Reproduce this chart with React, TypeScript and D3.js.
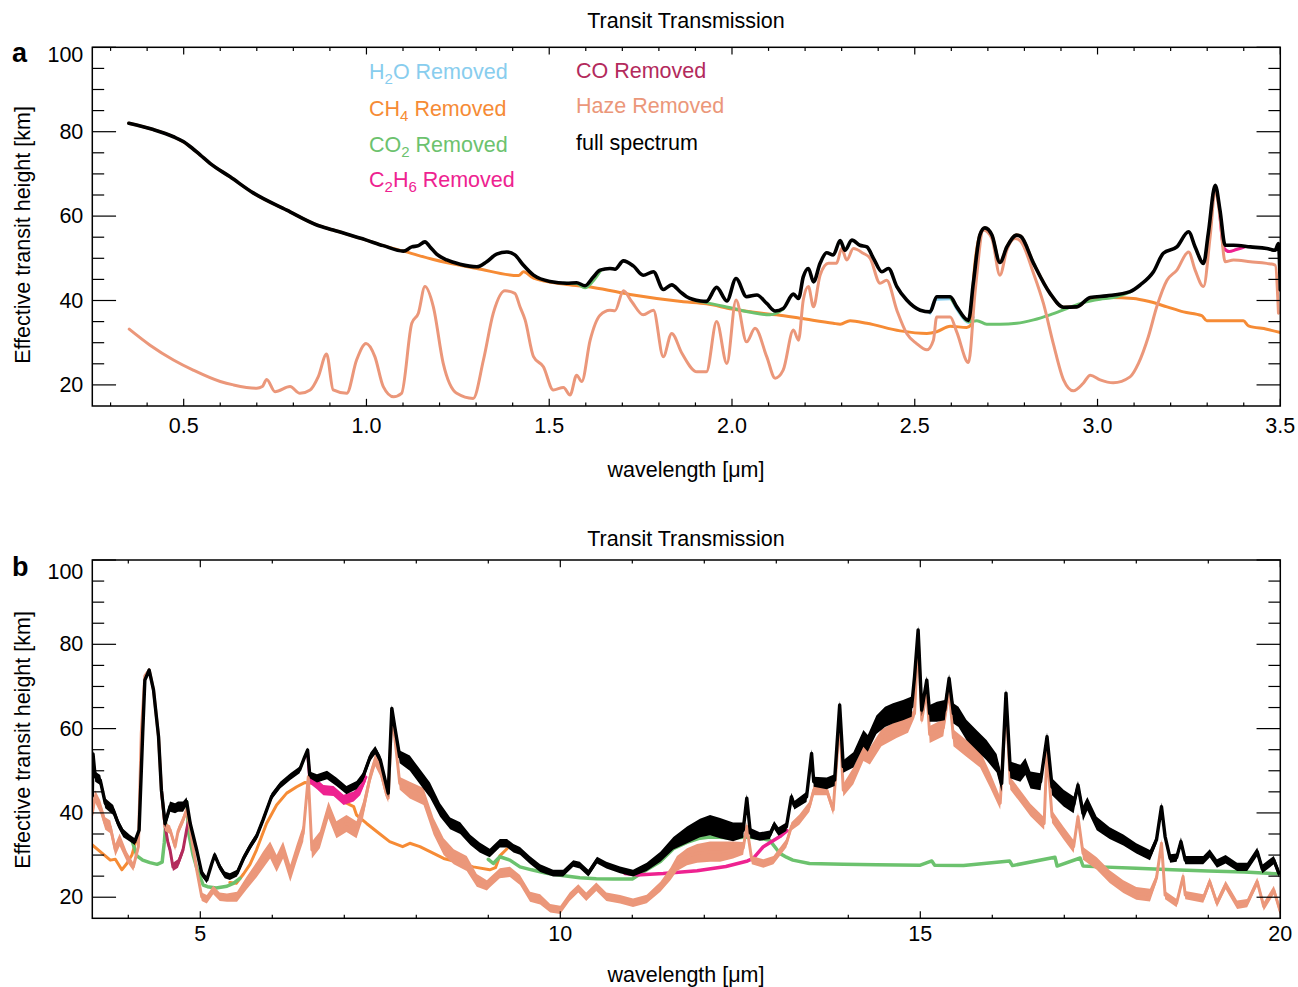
import React from "react";
import * as d3 from "d3";

type P = [number, number] | null;
type PS = [number, number, number];

// ---------- Panel a (0.25–3.5 µm) ----------
const aFull: P[] = [
  [0.35, 82.0], [0.417, 80.5], [0.472, 78.8], [0.5, 77.6], [0.513, 76.8], [0.545, 74.5], [0.572, 72.5],
  [0.627, 69.3], [0.69, 65.5], [0.782, 61.4], [0.864, 57.9], [0.909, 56.7], [1.0, 54.3], [1.046, 53.0],
  [1.101, 51.7], [1.124, 52.7], [1.142, 53.0], [1.16, 53.9], [1.174, 52.7], [1.192, 51.0], [1.22, 49.6],
  [1.256, 48.6], [1.302, 48.0], [1.329, 49.2], [1.356, 51.0], [1.384, 51.5], [1.406, 50.8], [1.429, 48.4],
  [1.457, 46.0], [1.502, 44.5], [1.548, 44.1], [1.575, 44.2], [1.598, 43.5], [1.62, 45.5], [1.639, 47.2],
  [1.666, 47.6], [1.68, 47.4], [1.703, 49.4], [1.73, 48.2], [1.757, 46.0], [1.785, 46.8], [1.812, 42.6],
  [1.835, 43.7], [1.858, 42.1], [1.876, 40.9], [1.914, 39.9], [1.93, 39.8], [1.958, 43.1], [1.986, 39.9],
  [2.011, 45.2], [2.04, 40.9], [2.068, 41.3], [2.095, 39.3], [2.118, 37.5], [2.14, 38.1], [2.168, 41.5],
  [2.182, 40.5], [2.195, 45.6], [2.209, 47.6], [2.223, 44.4], [2.241, 48.8], [2.259, 51.3], [2.277, 50.8],
  [2.296, 54.2], [2.309, 51.9], [2.328, 54.3], [2.35, 53.1], [2.369, 52.7], [2.387, 50.0], [2.41, 46.8],
  [2.428, 47.6], [2.451, 43.3], [2.478, 40.1], [2.515, 37.7], [2.542, 37.3], [2.56, 40.9], [2.597, 40.9],
  [2.615, 38.5], [2.647, 35.3], [2.66, 44.0], [2.678, 55.5], [2.692, 57.2], [2.711, 55.5], [2.733, 49.0],
  [2.752, 52.7], [2.779, 55.5], [2.79, 55.2], [2.825, 48.8], [2.87, 41.7], [2.907, 38.4], [2.943, 38.5],
  [2.98, 40.7], [3.025, 41.1], [3.089, 42.1], [3.117, 43.7], [3.153, 46.8], [3.18, 51.2], [3.217, 52.7],
  [3.249, 56.3], [3.267, 52.7], [3.29, 48.8], [3.303, 55.9], [3.322, 67.3], [3.335, 61.4], [3.349, 53.1],
  [3.372, 53.1], [3.418, 52.7], [3.463, 52.3], [3.486, 51.9], [3.495, 53.5], [3.5, 42.5],
];

const aHaze: P[] = [
  [0.351, 33.2], [0.408, 29.4], [0.472, 25.9], [0.526, 23.5], [0.6, 20.8], [0.636, 20.0], [0.7, 19.2],
  [0.715, 19.6], [0.727, 21.3], [0.75, 18.4], [0.791, 19.6], [0.818, 18.0], [0.846, 18.8], [0.868, 21.9],
  [0.891, 27.3], [0.909, 18.8], [0.946, 18.0], [0.973, 25.9], [0.999, 29.8], [1.023, 26.7], [1.046, 19.6],
  [1.074, 17.2], [1.096, 18.0], [1.124, 34.6], [1.142, 37.0], [1.16, 43.3], [1.183, 38.5], [1.21, 25.1],
  [1.247, 18.0], [1.292, 16.8], [1.32, 25.9], [1.347, 37.0], [1.379, 42.3], [1.406, 41.7], [1.42, 38.5],
  [1.434, 35.4], [1.457, 26.7], [1.484, 24.3], [1.511, 18.8], [1.539, 19.4], [1.557, 17.6], [1.575, 22.3],
  [1.589, 20.8], [1.612, 30.6], [1.639, 36.5], [1.666, 37.7], [1.68, 37.6], [1.703, 42.3], [1.726, 39.7],
  [1.757, 36.6], [1.785, 37.7], [1.812, 26.7], [1.835, 32.2], [1.863, 27.5], [1.904, 23.1], [1.93, 23.1],
  [1.958, 35.0], [1.986, 25.1], [2.011, 40.1], [2.04, 30.2], [2.063, 33.4], [2.095, 26.7], [2.118, 21.6],
  [2.14, 23.5], [2.168, 33.0], [2.182, 30.6], [2.195, 40.1], [2.209, 43.3], [2.223, 38.5], [2.241, 46.0],
  [2.264, 48.8], [2.286, 48.8], [2.3, 52.3], [2.314, 49.6], [2.332, 52.3], [2.359, 51.2], [2.378, 50.0],
  [2.405, 44.1], [2.423, 44.8], [2.451, 37.7], [2.478, 32.2], [2.505, 29.8], [2.533, 28.3], [2.551, 30.6],
  [2.56, 36.1], [2.597, 36.1], [2.615, 32.5], [2.647, 25.3], [2.665, 42.0], [2.688, 56.7], [2.711, 54.7],
  [2.733, 46.0], [2.752, 52.0], [2.774, 54.7], [2.79, 54.0], [2.825, 46.4], [2.852, 39.3], [2.879, 29.8],
  [2.907, 21.2], [2.934, 18.6], [2.961, 20.4], [2.98, 22.3], [3.007, 21.2], [3.043, 20.5], [3.089, 21.9],
  [3.112, 25.1], [3.139, 31.4], [3.162, 38.5], [3.19, 44.8], [3.217, 47.2], [3.249, 51.5], [3.267, 47.2],
  [3.29, 43.3], [3.308, 55.1], [3.322, 66.2], [3.335, 59.8], [3.349, 49.2], [3.372, 49.6], [3.418, 49.2],
  [3.463, 48.8], [3.486, 48.4], [3.495, 37.0],
];

const aCH4: P[] = [
  [0.35, 82.0], [0.417, 80.5], [0.472, 78.8], [0.513, 76.8], [0.545, 74.5], [0.572, 72.5], [0.627, 69.3],
  [0.69, 65.5], [0.782, 61.4], [0.864, 57.9], [0.909, 56.7], [1.0, 54.3], [1.046, 53.0], [1.101, 51.7],
  [1.183, 49.7], [1.302, 47.6], [1.416, 45.9], [1.43, 46.8], [1.457, 45.3], [1.548, 43.8], [1.62, 43.1],
  [1.73, 41.3], [1.867, 39.7], [1.93, 39.2], [2.0, 38.0], [2.06, 37.2], [2.122, 36.6], [2.186, 35.8],
  [2.277, 34.6], [2.296, 34.4], [2.323, 35.2], [2.369, 34.6], [2.46, 32.8], [2.533, 32.2], [2.56, 32.6],
  [2.597, 33.9], [2.642, 33.6], [2.655, 34.3], [2.66, 44.0], [2.678, 55.5], [2.692, 57.2], [2.711, 55.5],
  [2.733, 49.0], [2.752, 52.7], [2.779, 55.5], [2.79, 55.2], [2.825, 48.8], [2.87, 41.7], [2.907, 38.4],
  [2.943, 38.5], [2.98, 40.5], [3.035, 40.7], [3.098, 40.5], [3.144, 39.7], [3.19, 38.5], [3.235, 37.3],
  [3.285, 36.4], [3.299, 35.2], [3.399, 35.2], [3.413, 34.0], [3.463, 33.2], [3.5, 32.4],
];

const aCO2: P[] = [
  [1.54, 44.1], [1.575, 44.0], [1.598, 43.0], [1.62, 44.6], [1.64, 47.0], null,
  [1.9, 40.0], [1.93, 39.5], [2.004, 38.1], [2.058, 37.1], [2.104, 36.6], [2.122, 37.0], [2.14, 38.0], null,
  [2.597, 40.8], [2.615, 38.4], [2.647, 35.0], [2.67, 35.2], [2.697, 34.4], [2.733, 34.4], [2.779, 34.6],
  [2.825, 35.4], [2.87, 36.6], [2.916, 38.1], [2.961, 39.5], [3.007, 40.3], [3.043, 40.7], [3.089, 42.0],
];

const aH2O: P[] = [
  [2.542, 37.0], [2.56, 40.3], [2.597, 40.4], [2.615, 38.0], [2.647, 34.8], [2.66, 36.0],
];

const aC2H6: P[] = [
  [3.335, 60.0], [3.345, 52.5], [3.36, 51.6], [3.38, 52.1], [3.4, 52.6],
];

// ---------- Panel b (3.5–20 µm): [wavelength, height, noise half-width] ----------
const bFull: PS[] = [
  [3.5, 44, 1], [3.51, 54, 1], [3.54, 48.6, 1.2], [3.61, 47.8, 1.2], [3.68, 42.3, 1.2], [3.79, 40.7, 1.2],
  [3.86, 37.5, 1], [3.93, 35.2, 1], [4.02, 34.0, 0.8], [4.09, 33.2, 0.8], [4.15, 35.9, 0.6], [4.2, 58.9, 0.5],
  [4.23, 71.5, 0.5], [4.29, 73.9, 0.5], [4.35, 69.2, 0.5], [4.42, 58.1, 0.5], [4.46, 45.4, 0.5], [4.51, 37.5, 1],
  [4.58, 41.5, 1.2], [4.65, 41.1, 1.2], [4.69, 41.5, 1.2], [4.76, 41.5, 1.2], [4.81, 42.7, 1], [4.86, 37.5, 1],
  [4.95, 31.2, 0.8], [5.02, 25.7, 0.8], [5.09, 24.1, 0.8], [5.16, 28.0, 0.8], [5.2, 30.0, 0.8], [5.27, 27.2, 0.8],
  [5.34, 25.3, 0.8], [5.41, 24.9, 0.8], [5.51, 25.7, 0.8], [5.6, 29.2, 0.8], [5.69, 32.0, 0.8], [5.78, 34.4, 0.8],
  [5.87, 38.3, 0.8], [5.99, 43.9, 0.8], [6.11, 46.6, 0.8], [6.25, 48.6, 0.8], [6.38, 50.2, 0.8], [6.45, 53.3, 0.6],
  [6.49, 54.9, 0.6], [6.52, 49.0, 0.8], [6.62, 48.2, 1], [6.76, 49.0, 1], [6.89, 47.4, 1], [7.03, 45.4, 1],
  [7.17, 46.6, 1], [7.26, 48.6, 1], [7.36, 53.3, 1], [7.43, 54.9, 1], [7.5, 52.6, 1], [7.61, 44.7, 1],
  [7.66, 64.8, 0.8], [7.7, 60.5, 1], [7.77, 53.3, 1.5], [7.91, 51.8, 1.8], [8.05, 48.6, 1.8], [8.19, 45.4, 1.8],
  [8.33, 40.7, 1.6], [8.47, 37.5, 1.4], [8.61, 36.4, 1.4], [8.75, 33.6, 1.2], [8.88, 31.8, 1.2], [9.02, 30.5, 1.0],
  [9.16, 32.8, 1.0], [9.26, 32.8, 1.0], [9.35, 31.6, 1.0], [9.44, 31.0, 0.9], [9.58, 28.8, 0.9], [9.72, 26.9, 0.9],
  [9.9, 25.7, 0.8], [10.04, 25.7, 0.8], [10.18, 28.0, 0.8], [10.27, 27.6, 0.8], [10.39, 25.7, 0.8], [10.51, 28.8, 0.8],
  [10.64, 27.6, 0.8], [10.83, 26.5, 0.8], [11.01, 25.7, 0.8], [11.2, 27.2, 1.0], [11.39, 29.6, 1.2], [11.57, 32.8, 1.5],
  [11.76, 34.8, 2.0], [11.94, 36.4, 2.2], [12.08, 37.1, 2.4], [12.22, 36.4, 2.4], [12.4, 35.5, 2.2], [12.54, 35.9, 1.8],
  [12.59, 43.5, 1], [12.64, 35.2, 1.2], [12.77, 34.4, 1], [12.91, 34.8, 1], [12.97, 37.1, 1], [13.03, 35.6, 1],
  [13.14, 36.7, 1], [13.21, 43.8, 1], [13.25, 41.8, 1], [13.42, 43.8, 1.2], [13.49, 54.1, 1], [13.52, 47.4, 1.2],
  [13.7, 47.0, 1.4], [13.81, 47.8, 1.4], [13.88, 65.6, 1], [13.93, 51.0, 1.5], [14.07, 52.6, 1.8], [14.21, 57.7, 2],
  [14.27, 56.5, 2], [14.39, 60.9, 2.2], [14.51, 62.8, 2.4], [14.62, 63.6, 2.4], [14.76, 64.4, 2.4], [14.88, 65.2, 2.4],
  [14.92, 72.3, 1], [14.97, 83.4, 1], [15.02, 64.4, 1.5], [15.09, 71.5, 1], [15.13, 63.6, 2], [15.23, 64.0, 2.4],
  [15.34, 64.4, 2.4], [15.4, 71.9, 1], [15.46, 63.6, 2.4], [15.53, 62.8, 2.4], [15.64, 59.7, 2.4], [15.78, 57.3, 2.4],
  [15.92, 54.9, 2.4], [16.06, 51.8, 2.2], [16.13, 47.0, 2], [16.19, 68.4, 1], [16.25, 50.2, 2], [16.39, 49.4, 2],
  [16.46, 51.0, 2], [16.53, 47.8, 2], [16.67, 47.4, 2], [16.76, 58.1, 1], [16.83, 46.2, 2], [16.99, 43.5, 2],
  [17.13, 41.9, 2], [17.19, 46.6, 1], [17.26, 39.9, 1.8], [17.32, 42.2, 1.6], [17.45, 37.5, 1.6], [17.63, 35.2, 1.4],
  [17.82, 33.6, 1.3], [18.0, 31.6, 1.2], [18.19, 30.0, 1.2], [18.28, 33.6, 1], [18.35, 41.5, 1], [18.4, 34.4, 1],
  [18.47, 29.2, 1], [18.56, 29.4, 1], [18.62, 33.2, 1], [18.68, 28.8, 1], [18.93, 28.8, 1], [19.02, 30.4, 1],
  [19.12, 28.0, 1], [19.24, 29.0, 1], [19.4, 27.2, 1], [19.54, 27.2, 1], [19.68, 30.8, 1], [19.75, 26.7, 1],
  [19.91, 28.8, 1], [19.98, 25.7, 1],
];

const bHaze: PS[] = [
  [3.5, 40, 2], [3.54, 43.9, 1.5], [3.61, 41.5, 1.5], [3.68, 37.5, 1.5], [3.75, 36.7, 1.5], [3.82, 31.2, 1.5],
  [3.88, 33.6, 1.5], [3.98, 29.6, 1.2], [4.07, 27.2, 1], [4.14, 32.0, 1], [4.18, 58.9, 0.5], [4.23, 72.5, 0.5],
  [4.29, 73.9, 0.5], [4.35, 69.2, 0.5], [4.42, 58.1, 0.5], [4.46, 45.4, 0.5], [4.51, 36.7, 1], [4.58, 36.0, 1],
  [4.65, 32.0, 1], [4.69, 35.6, 1], [4.76, 38.3, 1], [4.81, 40.7, 1], [4.86, 36.0, 1], [4.95, 26.5, 1],
  [5.02, 20.1, 1], [5.09, 19.5, 1], [5.18, 21.7, 1], [5.27, 20.1, 1], [5.37, 19.9, 1], [5.51, 20.1, 1.2],
  [5.64, 23.3, 1.5], [5.78, 26.5, 1.8], [5.87, 28.8, 2], [5.97, 31.2, 2], [6.06, 28.0, 2], [6.15, 31.2, 2],
  [6.25, 25.7, 2], [6.34, 30.6, 2], [6.43, 35.2, 2], [6.5, 48.6, 1], [6.55, 31.2, 2], [6.66, 33.6, 2],
  [6.78, 40.7, 2], [6.89, 36.0, 2], [7.03, 37.5, 2], [7.17, 36.0, 2], [7.26, 40.7, 2], [7.36, 48.6, 1.5],
  [7.43, 52.6, 1.5], [7.5, 50.2, 1.5], [7.57, 45.6, 1.5], [7.61, 43.5, 1], [7.66, 62.8, 1], [7.7, 58.1, 1],
  [7.77, 47.0, 1.5], [7.91, 45.4, 2], [8.1, 43.9, 2], [8.24, 36.8, 2], [8.38, 32.0, 2], [8.52, 29.6, 1.8],
  [8.7, 28.0, 1.8], [8.84, 24.0, 1.5], [8.98, 22.8, 1.2], [9.02, 23.5, 1.2], [9.16, 25.7, 1.2], [9.3, 26.0, 1.2],
  [9.44, 24.1, 1.2], [9.58, 20.1, 1.2], [9.72, 19.5, 1.2], [9.86, 17.4, 1], [10.0, 17.0, 1], [10.13, 20.1, 1],
  [10.25, 22.1, 1], [10.36, 20.1, 1], [10.5, 22.5, 1], [10.64, 20.1, 1], [10.83, 19.5, 1], [11.01, 18.7, 1],
  [11.2, 19.6, 1], [11.39, 22.5, 1.2], [11.53, 25.5, 1.5], [11.62, 28.0, 1.8], [11.76, 29.6, 2], [11.9, 30.4, 2.2],
  [12.08, 30.8, 2.4], [12.22, 30.8, 2.4], [12.4, 31.2, 2], [12.54, 31.6, 1.5], [12.59, 36.8, 1], [12.66, 28.8, 1],
  [12.82, 28.0, 1], [12.96, 28.8, 1], [13.14, 32.8, 1], [13.21, 36.8, 1], [13.32, 38.4, 1.2], [13.46, 41.5, 1.2],
  [13.52, 45.4, 1.2], [13.7, 45.4, 1.2], [13.79, 40.7, 1.2], [13.88, 62, 1], [13.93, 45.4, 1.5], [14.07, 48.8, 2],
  [14.21, 54.3, 2], [14.3, 53.5, 2], [14.46, 57.8, 2], [14.67, 59.8, 2], [14.83, 61.0, 2], [14.92, 63.6, 1],
  [14.97, 81.8, 1], [15.02, 62.0, 1], [15.09, 69.2, 1], [15.13, 58.6, 2], [15.32, 60.2, 2], [15.4, 69.2, 1],
  [15.46, 57.8, 2], [15.64, 55.3, 2], [15.83, 52.8, 2], [15.97, 47.8, 1.8], [16.11, 42.3, 1.5], [16.19, 66.1, 1],
  [16.25, 47.0, 1.5], [16.39, 43.9, 1.5], [16.53, 40.7, 1.5], [16.72, 37.5, 1.5], [16.76, 54.9, 1], [16.83, 39.1, 1.5],
  [16.99, 35.2, 1.5], [17.13, 32.0, 1.5], [17.19, 39.1, 1], [17.26, 30.4, 1.5], [17.45, 28.0, 1.5], [17.63, 24.9, 1.5],
  [17.82, 22.5, 1.5], [18.0, 20.9, 1.5], [18.19, 20.5, 1.5], [18.28, 24.5, 1], [18.35, 32.8, 1], [18.4, 20.5, 1],
  [18.56, 18.6, 1], [18.65, 24.9, 1], [18.68, 20.5, 1], [18.93, 19.7, 1], [19.02, 23.7, 1], [19.12, 18.6, 1],
  [19.24, 22.9, 1], [19.4, 18.2, 1], [19.54, 18.6, 1], [19.68, 23.7, 1], [19.77, 17.8, 1], [19.91, 21.7, 1],
  [20.0, 16.6, 1],
];

const bCH4: P[] = [
  [3.5, 32.4], [3.61, 30.8], [3.75, 28.8], [3.82, 29.0], [3.91, 26.5], [3.98, 28.0], [4.05, 30.0], [4.1, 33.0], null,
  [5.41, 23.5], [5.5, 23.3], [5.6, 25.5], [5.69, 27.8], [5.78, 31.2], [5.92, 37.5], [6.06, 41.9], [6.2, 44.7],
  [6.34, 46.2], [6.45, 47.2], [6.57, 47.0], [6.71, 46.2], [6.85, 44.7], [6.99, 42.7], [7.13, 41.5], [7.17, 39.5],
  [7.31, 37.5], [7.45, 35.6], [7.63, 33.2], [7.81, 32.0], [7.91, 32.8], [8.05, 32.0], [8.24, 30.4], [8.38, 29.2],
  [8.56, 28.4], [8.79, 27.2], [9.02, 26.5], [9.1, 27.0], [9.16, 29.8], [9.26, 31.5],
];

const bCO2: P[] = [
  [4.05, 33.5], [4.12, 29.8], [4.2, 28.8], [4.3, 28.2], [4.4, 27.8], [4.47, 28.3], [4.5, 33.0], [4.52, 37.5], null,
  [4.81, 42.7], [4.84, 35.0], [4.9, 30.0], [4.95, 27.0], [5.04, 22.9], [5.1, 22.5], [5.22, 22.2], [5.37, 22.6],
  [5.46, 23.3], [5.55, 24.5], null,
  [9.0, 29.0], [9.07, 28.0], [9.16, 29.6], [9.3, 28.8], [9.44, 27.2], [9.6, 26.5], [9.81, 25.7], [10.0, 25.2],
  [10.27, 24.6], [10.5, 24.4], [10.73, 24.3], [11.0, 24.3], [11.2, 26.5], [11.39, 28.5], [11.57, 31.5],
  [11.76, 33.0], [11.94, 34.0], [12.08, 34.3], [12.22, 34.2], [12.4, 34.0], [12.54, 34.2], [12.64, 34.2],
  [12.77, 34.0], [12.91, 33.5], [13.0, 31.5], [13.05, 30.4], [13.14, 29.5], [13.23, 28.8], [13.46, 28.0],
  [13.93, 27.8], [14.39, 27.7], [15.0, 27.6], [15.16, 28.6], [15.2, 27.6], [15.6, 27.5], [16.24, 28.6],
  [16.28, 27.5], [16.87, 29.5], [16.9, 27.4], [17.22, 29.3], [17.26, 27.4], [17.5, 27.2], [18.0, 26.9],
  [18.5, 26.5], [19.0, 26.2], [19.5, 26.0], [20.0, 25.5],
];

const bC2H6: PS[] = [
  [6.49, 54.5, 0.6], [6.52, 48.0, 1], [6.62, 46.8, 1.2], [6.71, 45.4, 1.2], [6.85, 45.2, 1.2], [6.99, 43.1, 1.2],
  [7.13, 43.9, 1.2], [7.22, 45.4, 1.2], [7.3, 48.5, 1],
];
const bC2H6b: P[] = [
  [10.9, 25.6], [11.06, 25.3], [11.43, 25.6], [11.9, 26.3], [12.3, 27.3], [12.6, 28.6], [12.68, 29.2],
  [12.82, 32.0], [13.05, 34.4], [13.15, 35.8],
];

const bCO: PS[] = [
  [4.46, 45.4, 0.6], [4.51, 37.0, 1], [4.55, 33.0, 1], [4.58, 31.2, 1], [4.62, 27.2, 1], [4.69, 28.0, 1],
  [4.76, 31.2, 1], [4.81, 36.0, 1], [4.84, 38.5, 1], [4.86, 37.5, 1],
];

// ---------- Ticks / labels ----------
const yMajor = [20, 40, 60, 80, 100];
const yMinor = [25, 30, 35, 45, 50, 55, 65, 70, 75, 85, 90, 95];
const aXMajor = [0.5, 1.0, 1.5, 2.0, 2.5, 3.0, 3.5];
const aXLabels = ["0.5", "1.0", "1.5", "2.0", "2.5", "3.0", "3.5"];
const aXMinor = [0.3, 0.4, 0.6, 0.7, 0.8, 0.9, 1.1, 1.2, 1.3, 1.4, 1.6, 1.7, 1.8, 1.9, 2.1, 2.2, 2.3, 2.4, 2.6, 2.7, 2.8, 2.9, 3.1, 3.2, 3.3, 3.4];
const bXMajor = [5, 10, 15, 20];
const bXLabels = ["5", "10", "15", "20"];
const bXMinor = [4, 6, 7, 8, 9, 11, 12, 13, 14, 16, 17, 18, 19];

const COLORS = {
  h2o: "#88cdee",
  ch4: "#f68b35",
  co2: "#6cc26e",
  c2h6: "#ee2290",
  co: "#b32a5c",
  haze: "#eb977a",
  full: "#000000",
};

const FONT = "'Liberation Sans', Arial, Helvetica, sans-serif";
const FS = 21.5;
const L = 92.3, R = 1280.3;

const xA = d3.scaleLinear().domain([0.25, 3.5]).range([L, R]);
const yA = d3.scaleLinear().domain([15, 100]).range([406, 47.3]);
const xB = d3.scaleLinear().domain([3.5, 20]).range([L, R]);
const yB = d3.scaleLinear().domain([15, 100]).range([918.3, 560]);

function linePath(data: P[], x: any, y: any, smooth = false) {
  const g = d3.line<P>().defined((d) => d !== null).x((d) => x(d![0])).y((d) => y(d![1]));
  if (smooth) g.curve(d3.curveMonotoneX);
  return g(data) || "";
}
function bandPath(data: PS[], x: any, y: any) {
  return d3.area<PS>().x((d) => x(d[0])).y0((d) => y(d[1] - d[2])).y1((d) => y(d[1] + d[2]))(data) || "";
}
function centerPath(data: PS[], x: any, y: any) {
  return d3.line<PS>().x((d) => x(d[0])).y((d) => y(d[1]))(data) || "";
}

function Axes({ x, y, xMajor, xLabels, xMinor, labelDy, top100Dy, title, titleY, xTitleY, yTitleY, letter, letterY }: any) {
  const [x0, x1] = x.range();
  const [yb, yt] = y.range();
  const w = x1 - x0, h = yb - yt;
  const yMaj = 0.02 * w, yMin = 0.01 * w, xMaj = 0.02 * h, xMin = 0.01 * h;
  const els: any[] = [];
  xMajor.forEach((t: number, i: number) => {
    const px = x(t);
    els.push(<line key={"xm" + i} x1={px} x2={px} y1={yb} y2={yb - xMaj} />);
    els.push(<line key={"xmt" + i} x1={px} x2={px} y1={yt} y2={yt + xMaj} />);
  });
  xMinor.forEach((t: number, i: number) => {
    const px = x(t);
    els.push(<line key={"xn" + i} x1={px} x2={px} y1={yb} y2={yb - xMin} />);
    els.push(<line key={"xnt" + i} x1={px} x2={px} y1={yt} y2={yt + xMin} />);
  });
  yMajor.forEach((t, i) => {
    const py = y(t);
    els.push(<line key={"ym" + i} x1={x0} x2={x0 + yMaj} y1={py} y2={py} />);
    els.push(<line key={"ymr" + i} x1={x1} x2={x1 - yMaj} y1={py} y2={py} />);
  });
  yMinor.forEach((t, i) => {
    const py = y(t);
    els.push(<line key={"yn" + i} x1={x0} x2={x0 + yMin} y1={py} y2={py} />);
    els.push(<line key={"ynr" + i} x1={x1} x2={x1 - yMin} y1={py} y2={py} />);
  });
  return (
    <g fontFamily={FONT} fill="#000">
      <g stroke="#000" strokeWidth={1.2}>{els}</g>
      <rect x={x0} y={yt} width={w} height={h} fill="none" stroke="#000" strokeWidth={1.5} />
      {xMajor.map((t: number, i: number) => (
        <text key={"xl" + i} x={x(t)} y={yb + labelDy} fontSize={FS} textAnchor="middle" dominantBaseline="central">{xLabels[i]}</text>
      ))}
      {yMajor.map((t, i) => (
        <text key={"yl" + i} x={x0 - 9} y={y(t) + (t === 100 ? top100Dy : 0)} fontSize={FS} textAnchor="end" dominantBaseline="central">{String(t)}</text>
      ))}
      <text x={686} y={titleY} fontSize={FS} textAnchor="middle" dominantBaseline="central">{title}</text>
      <text x={686} y={xTitleY} fontSize={FS} textAnchor="middle" dominantBaseline="central">wavelength [μm]</text>
      <text transform={`translate(23,${yTitleY}) rotate(-90)`} fontSize={FS} textAnchor="middle" dominantBaseline="central">Effective transit height [km]</text>
      <text x={12} y={letterY} fontSize={27} fontWeight="bold">{letter}</text>
    </g>
  );
}

function Legend() {
  const sub = (s: string) => <tspan fontSize={15} dy={5}>{s}</tspan>;
  return (
    <g fontFamily={FONT} fontSize={FS}>
      <text x={369} y={79} fill={COLORS.h2o}>H{sub("2")}<tspan dy={-5}>O Removed</tspan></text>
      <text x={369} y={116} fill={COLORS.ch4}>CH{sub("4")}<tspan dy={-5}> Removed</tspan></text>
      <text x={369} y={152} fill={COLORS.co2}>CO{sub("2")}<tspan dy={-5}> Removed</tspan></text>
      <text x={369} y={187} fill={COLORS.c2h6}>C{sub("2")}<tspan dy={-5}>H</tspan>{sub("6")}<tspan dy={-5}> Removed</tspan></text>
      <text x={576} y={78} fill={COLORS.co}>CO Removed</text>
      <text x={576} y={113} fill={COLORS.haze}>Haze Removed</text>
      <text x={576} y={150} fill={COLORS.full}>full spectrum</text>
    </g>
  );
}

export default function App() {
  const sw = 3;
  return (
    <svg width={1298} height={987} style={{ position: "absolute", left: 0, top: 0, background: "#fff" }}>
      <defs>
        <clipPath id="clipA"><rect x={L} y={47.3} width={R - L} height={406 - 47.3} /></clipPath>
        <clipPath id="clipB"><rect x={L} y={560} width={R - L} height={918.3 - 560} /></clipPath>
      </defs>
      <rect x={0} y={0} width={1298} height={987} fill="#fff" />
      {/* Panel a */}
      <g clipPath="url(#clipA)" fill="none" strokeLinejoin="round" strokeLinecap="round">
        <path d={linePath(aH2O, xA, yA, true)} stroke={COLORS.h2o} strokeWidth={sw} />
        <path d={linePath(aCH4, xA, yA, true)} stroke={COLORS.ch4} strokeWidth={sw} />
        <path d={linePath(aCO2, xA, yA, true)} stroke={COLORS.co2} strokeWidth={sw} />
        <path d={linePath(aC2H6, xA, yA, true)} stroke={COLORS.c2h6} strokeWidth={sw} />
        <path d={linePath(aHaze, xA, yA, true)} stroke={COLORS.haze} strokeWidth={sw} />
        <path d={linePath(aFull, xA, yA, true)} stroke={COLORS.full} strokeWidth={3.6} />
      </g>
      <Axes x={xA} y={yA} xMajor={aXMajor} xLabels={aXLabels} xMinor={aXMinor} labelDy={20} top100Dy={7.7}
        title="Transit Transmission" titleY={21} xTitleY={470} yTitleY={235} letter="a" letterY={62} />
      <Legend />
      {/* Panel b */}
      <g clipPath="url(#clipB)" strokeLinejoin="round" strokeLinecap="round">
        <path d={linePath(bCH4, xB, yB)} stroke={COLORS.ch4} strokeWidth={sw} fill="none" />
        <path d={linePath(bCO2, xB, yB)} stroke={COLORS.co2} strokeWidth={sw + 0.5} fill="none" />
        <path d={bandPath(bC2H6, xB, yB)} fill={COLORS.c2h6} />
        <path d={centerPath(bC2H6, xB, yB)} stroke={COLORS.c2h6} strokeWidth={sw} fill="none" />
        <path d={linePath(bC2H6b, xB, yB)} stroke={COLORS.c2h6} strokeWidth={sw + 0.5} fill="none" />
        <path d={bandPath(bCO, xB, yB)} fill={COLORS.co} />
        <path d={centerPath(bCO, xB, yB)} stroke={COLORS.co} strokeWidth={sw} fill="none" />
        <path d={bandPath(bHaze, xB, yB)} fill={COLORS.haze} />
        <path d={centerPath(bHaze, xB, yB)} stroke={COLORS.haze} strokeWidth={sw} fill="none" />
        <path d={bandPath(bFull, xB, yB)} fill={COLORS.full} />
        <path d={centerPath(bFull, xB, yB)} stroke={COLORS.full} strokeWidth={3.4} fill="none" />
      </g>
      <Axes x={xB} y={yB} xMajor={bXMajor} xLabels={bXLabels} xMinor={bXMinor} labelDy={16} top100Dy={11.5}
        title="Transit Transmission" titleY={539} xTitleY={975} yTitleY={740} letter="b" letterY={576} />
    </svg>
  );
}
